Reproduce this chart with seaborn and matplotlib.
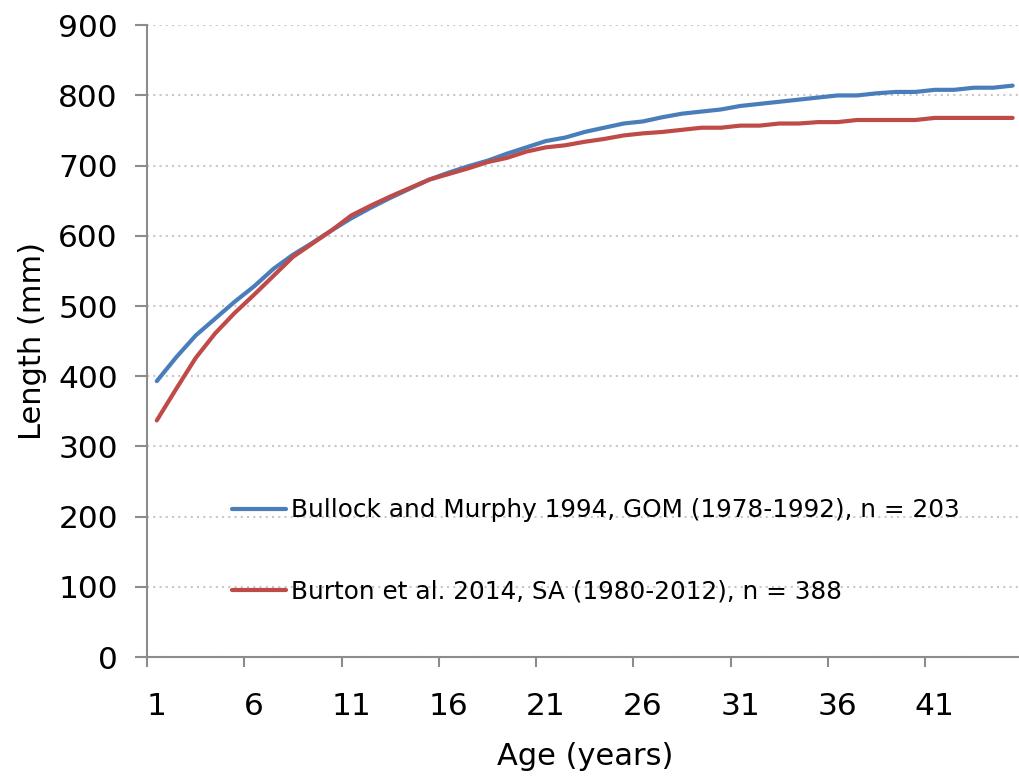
import matplotlib
matplotlib.use("Agg")
import matplotlib.pyplot as plt
import numpy as np
import pandas as pd
import seaborn as sns

# datos (longitud media por edad)
edades = list(range(1, 46))
bullock = [393, 427, 458, 482, 506, 528, 553, 573, 590, 608,
           625, 640, 654, 667, 680, 690, 699, 707, 717, 726,
           735, 740, 748, 754, 760, 763, 769, 774, 777, 780,
           785, 788, 791, 794, 797, 800, 800, 803, 805, 805,
           808, 808, 811, 811, 814]
burton = [337, 382, 426, 461, 490, 516, 543, 570, 589, 608,
          629, 643, 656, 668, 680, 688, 696, 705, 711, 720,
          726, 729, 734, 738, 743, 746, 748, 751, 754, 754,
          757, 757, 760, 760, 762, 762, 765, 765, 765, 765,
          768, 768, 768, 768, 768]
etiquetas = ["Bullock and Murphy 1994, GOM (1978-1992), n = 203",
             "Burton et al. 2014, SA (1980-2012), n = 388"]
colores = ["#4a7ebb", "#be4b48"]
ticks_x = [1, 6, 11, 16, 21, 26, 31, 36, 41]
ticks_y = [0, 100, 200, 300, 400, 500, 600, 700, 800, 900]

df = pd.DataFrame({
    "Age": edades * 2,
    "Length": bullock + burton,
    "Serie": [etiquetas[0]] * len(edades) + [etiquetas[1]] * len(edades),
})

sns.set_style("white")
plt.rcParams["font.family"] = ["DejaVu Sans"]
plt.rcParams["text.color"] = "black"
plt.rcParams["xtick.labelcolor"] = "black"
plt.rcParams["ytick.labelcolor"] = "black"
plt.rcParams["axes.labelcolor"] = "black"

fig = plt.figure(figsize=(10.19, 7.79), dpi=100)
ax = fig.add_axes([0.1443, 0.1566, 0.859, 0.811])

sns.lineplot(data=df, x="Age", y="Length", hue="Serie", palette=colores,
             linewidth=3, ax=ax)

ax.set_xlim(0.5, 45.5)
ax.set_ylim(0, 900)

# eje de categorias estilo excel: marcas entre categorias, etiquetas al centro
ax.set_xticks(np.arange(0.5, 46, 5))
ax.set_xticklabels([])
ax.set_xticks(ticks_x, minor=True)
ax.set_xticklabels([str(t) for t in ticks_x], minor=True, fontsize=22.5)
ax.tick_params(axis="x", which="major", direction="out", length=7, width=1.5,
               color="#8c8c8c", bottom=True)
ax.tick_params(axis="x", which="minor", length=0, pad=25)

ax.set_yticks(ticks_y)
ax.set_yticklabels([str(t) for t in ticks_y], fontsize=22.5)
ax.tick_params(axis="y", direction="out", length=9, width=1.5,
               color="#8c8c8c", left=True, pad=12)

ax.yaxis.grid(True, linestyle=(0, (1, 2)), color="#c8c8c8", linewidth=1.5)
ax.xaxis.grid(False)
for lado in ["top", "right"]:
    ax.spines[lado].set_visible(False)
for lado in ["left", "bottom"]:
    ax.spines[lado].set_color("#8c8c8c")
    ax.spines[lado].set_linewidth(1.5)

ax.set_xlabel("Age (years)", fontsize=22, labelpad=15)
ax.set_ylabel("Length (mm)", fontsize=22, labelpad=8)

ax.legend(loc="center left", bbox_to_anchor=(0.097, 0.168), frameon=False,
          fontsize=17.8, handlelength=2.2, handletextpad=0.2,
          labelspacing=2.3, borderpad=0, borderaxespad=0)

plt.savefig("out.png", dpi=100)
